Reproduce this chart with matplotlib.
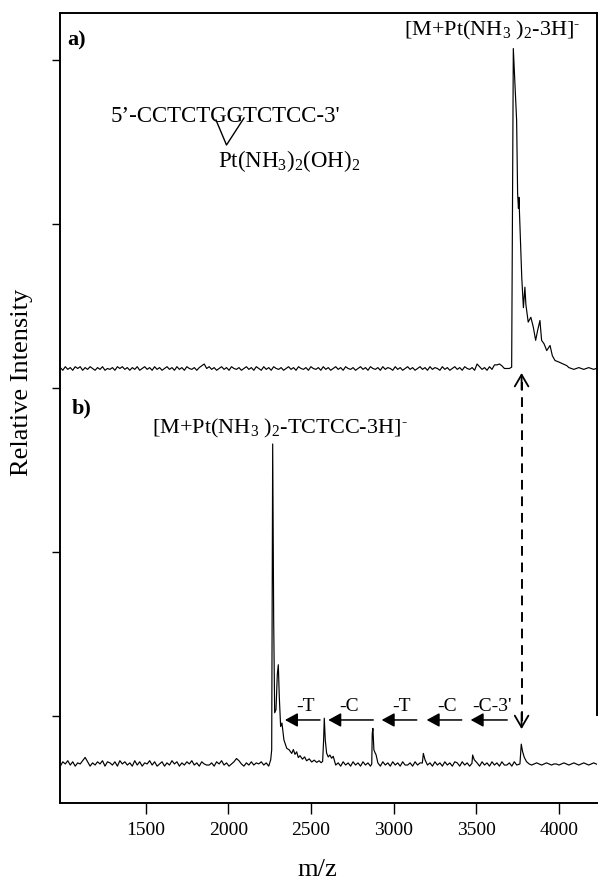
import numpy as np
import matplotlib.pyplot as plt
from matplotlib.lines import Line2D

plt.rcParams['font.family'] = ['Liberation Serif', 'DejaVu Serif']
plt.rcParams['mathtext.fontset'] = 'custom'
plt.rcParams['mathtext.rm'] = 'Liberation Serif'
plt.rcParams['mathtext.it'] = 'Liberation Serif:italic'
plt.rcParams['mathtext.bf'] = 'Liberation Serif:bold'

# ---- data (m/z, relative intensity in %) ----
# a) intact adduct, peak region
a_peak_mz = [3714, 3724, 3744, 3750, 3755, 3758, 3775, 3785, 3794, 3800, 3814, 3830,
             3845, 3859, 3871, 3885, 3895, 3910, 3926, 3946, 3960, 3976, 4000, 4047]
a_peak_int = [0.4, 100, 77.5, 54.6, 50, 53.5, 28.5, 19, 25.4, 20, 14.5, 16,
              12.9, 8.8, 11.9, 15, 8.8, 7.7, 5.6, 7.2, 4, 2.5, 2, 0.9]

# b) fragment spectrum, one list per peak group
b_peak_mz = [
    [2257, 2263, 2269, 2275, 2281, 2289, 2297, 2303, 2309, 2317, 2325, 2337, 2354, 2369,
     2384, 2394, 2404, 2414, 2424, 2434, 2449, 2462, 2474, 2490, 2505, 2520, 2535, 2550,
     2562, 2571, 2577, 2581, 2587, 2595, 2605, 2615, 2625, 2635],
    [2868, 2871, 2875, 2881, 2888, 2894],
    [3174, 3180, 3190],
    [3474, 3478, 3488],
    [3764, 3772, 3780, 3790, 3804],
]
b_peak_int = [
    [1.3, 4.4, 100, 45, 16, 17, 28, 31, 21, 11.7, 12.8, 7.5, 4.9, 4.4,
     3.3, 4.5, 3.0, 3.8, 2.0, 2.6, 1.5, 2.2, 1.0, 1.6, 0.6, 1.2, 0.5, 1.0,
     0.4, 0.8, 7.5, 14.3, 7.5, 3.4, 2.2, 2.8, 1.8, 2.4],
    [0.0, 9.6, 11.1, 4.4, 3.5, 2.9],
    [0.3, 3.3, 1.3],
    [0.2, 2.8, 1.3],
    [0.0, 6.2, 3.9, 2.1, 0.7],
]

# baseline wiggle, one digit per 15 m/z from m/z 985 (3 = zero level)
noise_start = 985
noise_step = 15
noise_a = ("41524153514253142513" "24153524142513524152" "41352415241532414683"
           "52413524153241352415" "31524153241352415324" "15324152413524153241"
           "35241532415243152413" "52413524152431524135" "24153241852415277863"
           "33333333333333333333" "33333432343234323432")
noise_b = ("15362514369514253615" "42516352416251436251" "35142635142536241532"
           "24153624135863142524" "35241333333333333333" "33333333333241524152"
           "41524133415241524152" "24152433241524152415" "41524133415241524152"
           "24152333332343234323" "32343234323432343234")

frag_labels = ['-T', '-C', '-T', '-C', "-C-3'"]
frag_label_mz = [2468, 2730, 3045, 3323, 3595]
frag_head_mz = [2343, 2605, 2928, 3200, 3466]
frag_tail_mz = [2555, 2877, 3140, 3412, 3687]

xticks = [1500, 2000, 2500, 3000, 3500, 4000]


def build_trace(noise, groups_mz, groups_int, scale):
    mz = []
    val = []
    for i, c in enumerate(noise):
        m = noise_start + noise_step * i
        if any(g[0] - 5 <= m <= g[-1] + 5 for g in groups_mz):
            continue
        mz.append(m)
        val.append((int(c) - 3) * scale)
    for g_mz, g_int in zip(groups_mz, groups_int):
        mz.extend(g_mz)
        val.extend(g_int)
    order = np.argsort(mz)
    return np.array(mz)[order], np.array(val)[order]


a_mz, a_val = build_trace(noise_a, [a_peak_mz], [a_peak_int], 0.28)
b_mz, b_val = build_trace(noise_b, b_peak_mz, b_peak_int, 0.34)

offset_a = 123.6   # vertical offset of trace a
y_bottom, y_top = -12.2, 234.7

fig = plt.figure(figsize=(6, 8.82), dpi=100)
ax = fig.add_axes([60 / 600, 79 / 882, 537 / 600, 790 / 882])

ax.plot(b_mz, b_val, color='black', lw=0.85)
ax.plot(a_mz, a_val + offset_a, color='black', lw=0.85)

ax.set_xlim(983, 4230)
ax.set_ylim(y_bottom, y_top)
ax.set_xticks(xticks)
ax.set_xticklabels([str(t) for t in xticks], fontsize=14)
ax.set_yticks([15 + 51.25 * i for i in range(5)])
ax.set_yticklabels([])
ax.tick_params(axis='x', direction='out', length=8, width=1, pad=6)
ax.tick_params(axis='y', direction='out', length=6, width=1)
for side in ['left', 'bottom', 'top', 'right']:
    ax.spines[side].set_linewidth(1.4)
ax.spines['right'].set_bounds(15.3, y_top)

# fragment ladder arrows
for lab, lx, hx, tx in zip(frag_labels, frag_label_mz, frag_head_mz, frag_tail_mz):
    ax.annotate('', xy=(hx, 13.75), xytext=(tx, 13.75),
                arrowprops=dict(arrowstyle='-|>,head_length=0.55,head_width=0.3',
                                color='black', lw=1.1, mutation_scale=14,
                                shrinkA=0, shrinkB=0))
    ax.text(lx, 16.6, lab, fontsize=14, ha='center', va='baseline')

# dashed double arrow linking the two spectra
link_mz = 3774
ax.plot([link_mz, link_mz], [13.5, 119.5], color='black', lw=1.4,
        linestyle=(0, (5, 3.5)))
ax.annotate('', xy=(link_mz, 122.2), xytext=(link_mz, 117),
            arrowprops=dict(arrowstyle='->,head_length=0.6,head_width=0.35',
                            color='black', lw=1.3, mutation_scale=14,
                            shrinkA=0, shrinkB=0))
ax.annotate('', xy=(link_mz, 10.9), xytext=(link_mz, 16),
            arrowprops=dict(arrowstyle='->,head_length=0.6,head_width=0.35',
                            color='black', lw=1.3, mutation_scale=14,
                            shrinkA=0, shrinkB=0))


def px(x, y):
    return x / 600, 1 - y / 882


hyph = '$^{\\mathrm{\u2010}}$'
fig.text(*px(67, 45), 'a)', fontsize=16, fontweight='bold', va='baseline')
fig.text(*px(72, 413), 'b)', fontsize=16, fontweight='bold', va='baseline')
fig.text(*px(404, 35), r'[M+Pt(NH$_{\mathrm{3}}$ )$_{\mathrm{2}}$-3H]' + hyph,
         fontsize=16, va='baseline')
fig.text(*px(111, 122), "5\u2019-CCTCTGGTCTCC-3'", fontsize=16.5, va='baseline')
fig.text(*px(218, 167), r'Pt(NH$_{\mathrm{3}}$)$_{\mathrm{2}}$(OH)$_{\mathrm{2}}$',
         fontsize=16.5, va='baseline')
fig.text(*px(152, 433), r'[M+Pt(NH$_{\mathrm{3}}$ )$_{\mathrm{2}}$-TCTCC-3H]' + hyph,
         fontsize=16, va='baseline')
vx, vy = zip(px(216, 120), px(226.5, 145), px(244, 118))
fig.add_artist(Line2D(vx, vy, transform=fig.transFigure, color='black', lw=1))

fig.text(*px(22, 382), 'Relative Intensity', fontsize=19, rotation=90,
         ha='center', va='center')
fig.text(*px(317, 870), 'm/z', fontsize=19, ha='center', va='center')

fig.savefig('out.png', dpi=100)
